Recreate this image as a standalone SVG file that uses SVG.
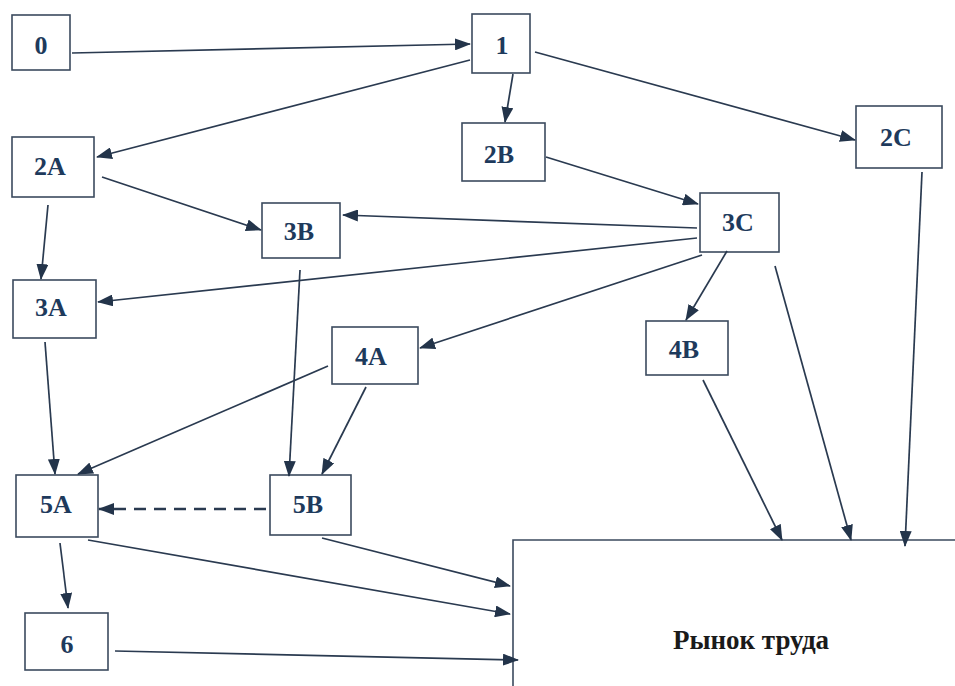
<svg xmlns="http://www.w3.org/2000/svg" width="955" height="686" viewBox="0 0 955 686">
<defs>
<marker id="ah" viewBox="0 0 16 12" refX="15" refY="6" markerWidth="16" markerHeight="12" markerUnits="userSpaceOnUse" orient="auto">
<path d="M0,0 L16,6 L0,12 Z" fill="#23344a"/>
</marker>
</defs>
<style>
.box{fill:#fff;stroke:#3b4a5e;stroke-width:1.6}
.lbl{font-family:"Liberation Serif",serif;font-weight:bold;font-size:26px;fill:#1e3a5c;text-anchor:middle;dominant-baseline:central}
.c{stroke:#2a3a50;stroke-width:1.7;fill:none;marker-end:url(#ah)}
.d{stroke-dasharray:12,8;stroke-width:2.6}
</style>
<rect width="955" height="686" fill="#fff"/>
<g id="market">
<path d="M513,686 V540 H955" fill="none" stroke="#3b4a5e" stroke-width="1.6"/>
<text x="751" y="640" font-family="Liberation Serif,serif" font-weight="bold" font-size="27" fill="#1a1a1a" text-anchor="middle" dominant-baseline="central">Рынок труда</text>
</g>
<g id="n0"><rect class="box" x="12" y="15" width="58" height="55"/><text class="lbl" x="41" y="45">0</text></g>
<g id="n1"><rect class="box" x="472" y="14" width="58" height="59"/><text class="lbl" x="502" y="45">1</text></g>
<g id="n2A"><rect class="box" x="12" y="137" width="82" height="60"/><text class="lbl" x="50" y="166">2A</text></g>
<g id="n2B"><rect class="box" x="462" y="123" width="83" height="58"/><text class="lbl" x="499" y="154">2B</text></g>
<g id="n2C"><rect class="box" x="856" y="106" width="86" height="62"/><text class="lbl" x="896" y="137">2C</text></g>
<g id="n3B"><rect class="box" x="262" y="203" width="78" height="55"/><text class="lbl" x="299" y="231">3B</text></g>
<g id="n3C"><rect class="box" x="700" y="193" width="79" height="59"/><text class="lbl" x="738" y="222">3C</text></g>
<g id="n3A"><rect class="box" x="13" y="280" width="83" height="58"/><text class="lbl" x="51" y="307">3A</text></g>
<g id="n4A"><rect class="box" x="332" y="327" width="86" height="57"/><text class="lbl" x="371" y="356">4A</text></g>
<g id="n4B"><rect class="box" x="646" y="321" width="82" height="54"/><text class="lbl" x="684" y="349">4B</text></g>
<g id="n5A"><rect class="box" x="16" y="475" width="82" height="62"/><text class="lbl" x="56" y="504">5A</text></g>
<g id="n5B"><rect class="box" x="270" y="475" width="81" height="60"/><text class="lbl" x="308" y="504">5B</text></g>
<g id="n6"><rect class="box" x="25" y="613" width="83" height="57"/><text class="lbl" x="67" y="644">6</text></g>
<g id="connectors">
<line class="c" x1="72" y1="53" x2="470" y2="44"/>
<line class="c" x1="470" y1="60" x2="97" y2="157"/>
<line class="c" x1="513" y1="74" x2="505" y2="122"/>
<line class="c" x1="535" y1="52" x2="855" y2="140"/>
<line class="c" x1="546" y1="157" x2="698" y2="204"/>
<line class="c" x1="697" y1="228" x2="343" y2="215"/>
<line class="c" x1="697" y1="238" x2="98" y2="302"/>
<line class="c" x1="702" y1="255" x2="420" y2="348"/>
<line class="c" x1="727" y1="251" x2="686" y2="320"/>
<line class="c" x1="775" y1="266" x2="851" y2="540"/>
<line class="c" x1="922" y1="172" x2="905" y2="546"/>
<line class="c" x1="703" y1="380" x2="782" y2="540"/>
<line class="c" x1="48" y1="205" x2="41" y2="279"/>
<line class="c" x1="102" y1="177" x2="261" y2="230"/>
<line class="c" x1="300" y1="270" x2="289" y2="476"/>
<line class="c" x1="45" y1="342" x2="55" y2="474"/>
<line class="c" x1="328" y1="366" x2="78" y2="474"/>
<line class="c" x1="366" y1="387" x2="322" y2="474"/>
<line class="c d" x1="266" y1="509" x2="99" y2="509"/>
<line class="c" x1="60" y1="543" x2="68" y2="608"/>
<line class="c" x1="88" y1="540" x2="510" y2="614"/>
<line class="c" x1="322" y1="538" x2="510" y2="586"/>
<line class="c" x1="115" y1="651" x2="518" y2="660"/>
</g>
</svg>
